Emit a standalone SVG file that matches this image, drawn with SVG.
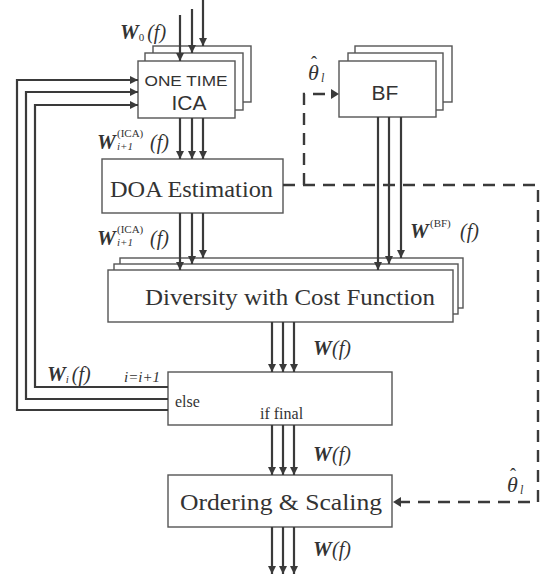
<svg xmlns="http://www.w3.org/2000/svg" width="548" height="574" viewBox="0 0 548 574">
<defs>
<marker id="ah" markerUnits="userSpaceOnUse" markerWidth="10" markerHeight="10" refX="8" refY="4" orient="auto">
<path d="M0,0 L8,4 L0,8 Z" fill="#3a3a3a"/>
</marker>
<style>
.box{fill:#fff;stroke:#555;stroke-width:1.4}
.ar{fill:none;stroke:#3a3a3a;stroke-width:2.2;marker-end:url(#ah)}
.ds{fill:none;stroke:#3a3a3a;stroke-width:2.4;stroke-dasharray:12 8}
.t{font-family:"Liberation Serif","Times New Roman",serif;fill:#333}
.s{font-family:"Liberation Sans",Arial,sans-serif;fill:#333}
.w{font-family:"Liberation Serif","Times New Roman",serif;fill:#333;font-weight:bold;font-style:italic}
.it{font-family:"Liberation Serif","Times New Roman",serif;fill:#333;font-style:italic}
</style>
</defs>
<rect width="548" height="574" fill="#fff"/>

<g id="ica">
<rect class="box" x="153" y="46" width="98" height="56"/>
<rect class="box" x="145" y="53" width="98" height="57"/>
<rect class="box" x="138" y="61" width="97" height="57"/>
<text class="s" x="186" y="86" font-size="15" textLength="83" lengthAdjust="spacingAndGlyphs" text-anchor="middle">ONE TIME</text>
<text class="s" x="189" y="110" font-size="21" text-anchor="middle">ICA</text>
</g>

<g id="bf">
<rect class="box" x="355" y="46" width="97" height="56"/>
<rect class="box" x="348" y="53" width="95" height="57"/>
<rect class="box" x="339" y="61" width="97" height="56"/>
<text class="s" x="385" y="100" font-size="21" text-anchor="middle">BF</text>
</g>

<g id="doa">
<rect class="box" x="102" y="159" width="181" height="54"/>
<text class="t" x="110" y="197" font-size="24" textLength="163" lengthAdjust="spacingAndGlyphs">DOA Estimation</text>
</g>

<g id="diversity">
<rect class="box" x="120" y="258" width="343" height="50"/>
<rect class="box" x="114" y="264" width="344" height="50"/>
<rect class="box" x="108" y="270" width="345" height="52"/>
<text class="t" x="145" y="305" font-size="24" textLength="290" lengthAdjust="spacingAndGlyphs">Diversity with Cost Function</text>
</g>

<g id="decision">
<rect class="box" x="168" y="372" width="224" height="53"/>
<text class="t" x="175" y="407" font-size="16">else</text>
<text class="t" x="260" y="419" font-size="16">if final</text>
</g>

<g id="ordering">
<rect class="box" x="168" y="475" width="224" height="52"/>
<text class="t" x="180" y="510" font-size="24" textLength="202" lengthAdjust="spacingAndGlyphs">Ordering &amp; Scaling</text>
</g>

<g id="connectors">
<line class="ar" x1="180" y1="15" x2="180" y2="61"/>
<line class="ar" x1="192" y1="9" x2="192" y2="53"/>
<line class="ar" x1="203" y1="0" x2="203" y2="46"/>
<line class="ar" x1="180" y1="118" x2="180" y2="159"/>
<line class="ar" x1="192" y1="118" x2="192" y2="159"/>
<line class="ar" x1="203" y1="118" x2="203" y2="159"/>
<line class="ar" x1="180" y1="213" x2="180" y2="270"/>
<line class="ar" x1="192" y1="213" x2="192" y2="264"/>
<line class="ar" x1="203" y1="213" x2="203" y2="258"/>
<line class="ar" x1="378" y1="117" x2="378" y2="270"/>
<line class="ar" x1="389" y1="117" x2="389" y2="264"/>
<line class="ar" x1="401" y1="117" x2="401" y2="258"/>
<line class="ar" x1="272" y1="322" x2="272" y2="372"/>
<line class="ar" x1="283" y1="322" x2="283" y2="372"/>
<line class="ar" x1="294" y1="322" x2="294" y2="372"/>
<line class="ar" x1="272" y1="425" x2="272" y2="475"/>
<line class="ar" x1="283" y1="425" x2="283" y2="475"/>
<line class="ar" x1="294" y1="425" x2="294" y2="475"/>
<line class="ar" x1="272" y1="527" x2="272" y2="574"/>
<line class="ar" x1="283" y1="527" x2="283" y2="574"/>
<line class="ar" x1="294" y1="527" x2="294" y2="574"/>
<polyline class="ar" points="168,387 35,387 35,105 138,105"/>
<polyline class="ar" points="168,399 26,399 26,92 138,92"/>
<polyline class="ar" points="168,410 17,410 17,80 138,80"/>
<polyline class="ds" points="283,185 538,185 538,502 400,502"/>
<polyline class="ds" points="304,185 304,94 331,94"/>
<path d="M331,89 L339,94 L331,99 Z" fill="#3a3a3a"/>
<path d="M401,497 L393,502 L401,507 Z" fill="#3a3a3a"/>
</g>

<g id="labels">
<text class="w" x="120" y="39" font-size="21">W<tspan font-weight="normal" font-style="normal" font-size="11" dy="2">0</tspan><tspan font-weight="normal" font-size="20" dx="3" dy="-2">(f)</tspan></text>

<text class="w" x="97" y="149" font-size="21">W</text>
<text class="t" x="117" y="137" font-size="11">(ICA)</text>
<text class="it" x="117" y="150" font-size="11">i+1</text>
<text class="it" x="150" y="149" font-size="20">(f)</text>

<text class="w" x="97" y="245" font-size="21">W</text>
<text class="t" x="117" y="233" font-size="11">(ICA)</text>
<text class="it" x="117" y="246" font-size="11">i+1</text>
<text class="it" x="150" y="245" font-size="20">(f)</text>

<text class="w" x="410" y="238" font-size="21">W</text>
<text class="t" x="430" y="227" font-size="11">(BF)</text>
<text class="it" x="460" y="238" font-size="20">(f)</text>

<text class="w" x="313" y="355" font-size="21">W</text>
<text class="it" x="332" y="355" font-size="20">(f)</text>
<text class="w" x="313" y="461" font-size="21">W</text>
<text class="it" x="332" y="461" font-size="20">(f)</text>
<text class="w" x="313" y="556" font-size="21">W</text>
<text class="it" x="332" y="556" font-size="20">(f)</text>

<text class="w" x="47" y="381" font-size="21">W<tspan font-weight="normal" font-size="11" dy="2">i</tspan><tspan font-weight="normal" font-size="20" dx="3" dy="-2">(f)</tspan></text>

<text class="it" x="124" y="382" font-size="15">i=i+1</text>

<text class="it" font-size="22"><tspan x="308" y="80">θ</tspan><tspan x="311" y="69" font-style="normal" font-size="18">ˆ</tspan><tspan x="321" y="82" font-size="12">l</tspan></text>
<text class="it" font-size="22"><tspan x="507" y="492">θ</tspan><tspan x="510" y="481" font-style="normal" font-size="18">ˆ</tspan><tspan x="520" y="494" font-size="12">l</tspan></text>
</g>
</svg>
